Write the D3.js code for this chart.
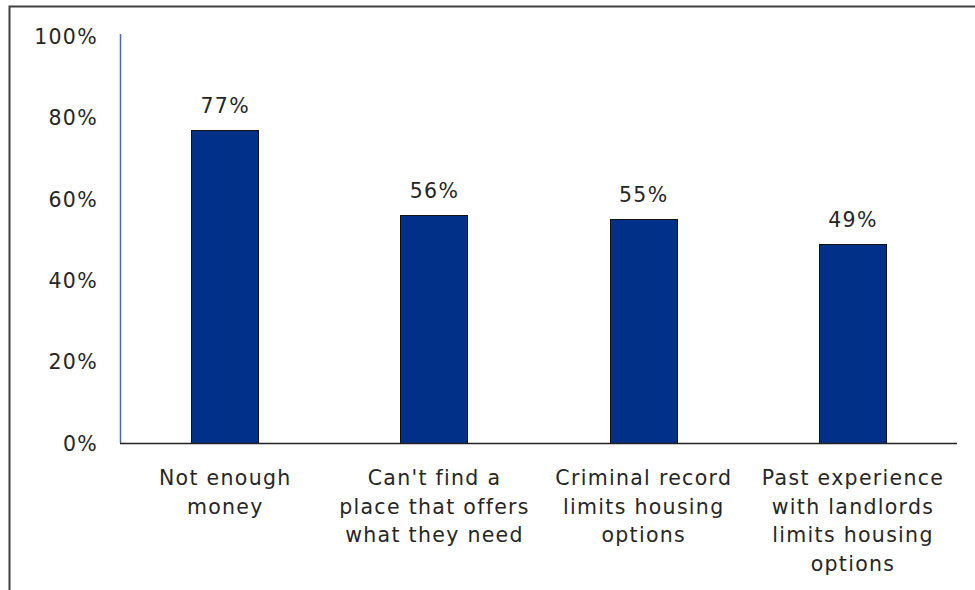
<!DOCTYPE html>
<html>
<head>
<meta charset="utf-8">
<script src="https://cdn.jsdelivr.net/npm/d3@7"></script>
<style>
  html, body { margin: 0; padding: 0; background: #fff; }
  svg { display: block; }
  text { font-family: "DejaVu Sans", Verdana, sans-serif; fill: #262626; }
</style>
</head>
<body>
<svg id="chart" width="975" height="590"></svg>
<script>
const categories = [
  ["Not enough", "money"],
  ["Can't find a", "place that offers", "what they need"],
  ["Criminal record", "limits housing", "options"],
  ["Past experience", "with landlords", "limits housing", "options"]
];
const values = [0.77, 0.56, 0.55, 0.49];
const yTicks = [0, 0.2, 0.4, 0.6, 0.8, 1.0];

const svg = d3.select("#chart");
const W = 975, H = 590;
const margin = { left: 120, right: 18, top: 36, bottom: 147 };

// frame
svg.append("path")
  .attr("d", `M9.5,${H} V6.5 H${W}`)
  .attr("fill", "none").attr("stroke", "#404040").attr("stroke-width", 2);

const x = d3.scaleBand()
  .domain(d3.range(values.length))
  .range([margin.left, W - margin.right])
  .paddingInner(0.68).paddingOuter(0.34);

const y = d3.scaleLinear().domain([0, 1]).range([H - margin.bottom, margin.top]);

const fs = 20.5;
const ls = 1.3;

// y axis labels
const yAxis = d3.axisLeft(y).tickValues(yTicks).tickFormat(d3.format(".0%")).tickSize(0).tickPadding(22);
const gy = svg.append("g").attr("transform", `translate(${margin.left},0)`).call(yAxis);
gy.select(".domain").remove();
gy.selectAll("text").attr("font-size", fs).attr("font-family", null).attr("fill", "#262626")
  .attr("letter-spacing", ls).attr("dy", "0.36em");

// bars
svg.append("g").selectAll("rect").data(values).join("rect")
  .attr("x", (d, i) => Math.round(x(i)) + 0.5)
  .attr("y", d => Math.round(y(d)) + 0.5)
  .attr("width", Math.round(x.bandwidth()))
  .attr("height", d => Math.round(y(0)) - Math.round(y(d)))
  .attr("fill", "#003087")
  .attr("stroke", "#111")
  .attr("stroke-width", 1);

// y axis line
svg.append("line")
  .attr("x1", margin.left + 0.5).attr("x2", margin.left + 0.5)
  .attr("y1", y(1) - 2).attr("y2", y(0))
  .attr("stroke", "#4a69a8").attr("stroke-width", 1.5);

// baseline
svg.append("line")
  .attr("x1", margin.left).attr("x2", W - margin.right)
  .attr("y1", Math.round(y(0)) + 0.5).attr("y2", Math.round(y(0)) + 0.5)
  .attr("stroke", "#222").attr("stroke-width", 1.5);

// value labels
svg.append("g").selectAll("text").data(values).join("text")
  .attr("x", (d, i) => x(i) + x.bandwidth() / 2 + ls / 2)
  .attr("y", d => y(d) - 17)
  .attr("text-anchor", "middle")
  .attr("font-size", fs)
  .attr("letter-spacing", ls)
  .text(d => d3.format(".0%")(d));

// category labels
const lh = 28.7;
const cat = svg.append("g").selectAll("text").data(categories).join("text")
  .attr("x", (d, i) => x(i) + x.bandwidth() / 2 + ls / 2)
  .attr("y", y(0) + 42)
  .attr("text-anchor", "middle")
  .attr("font-size", fs)
  .attr("letter-spacing", ls);
cat.selectAll("tspan").data(d => d).join("tspan")
  .attr("x", function() { return this.parentNode.getAttribute("x"); })
  .attr("dy", (d, i) => i === 0 ? 0 : lh)
  .text(d => d);
</script>
</body>
</html>
